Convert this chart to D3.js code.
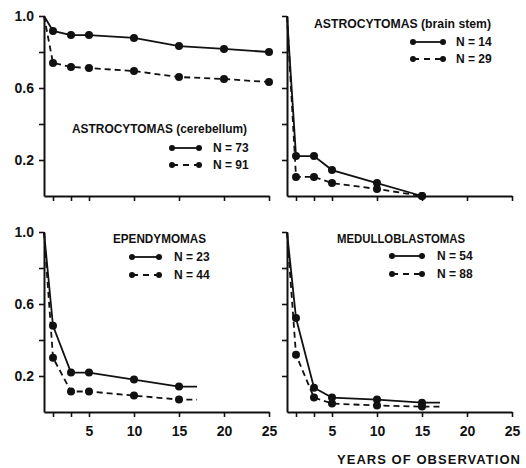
<!DOCTYPE html>
<html>
<head>
<meta charset="utf-8">
<script src="https://cdn.jsdelivr.net/npm/d3@7"></script>
<style>
  body { margin: 0; background: #fff; }
  svg { display: block; }
  text { font-family: "Liberation Sans", Arial, sans-serif; font-weight: bold; fill: #111; }
</style>
</head>
<body>
<div id="chart"></div>
<script>
// survival fractions
var cerebYears = [0, 1, 3, 5, 10, 15, 20, 25];
var cerebSolid = [1.0, 0.917, 0.894, 0.894, 0.878, 0.833, 0.817, 0.8];
var cerebDashed = [1.0, 0.739, 0.717, 0.711, 0.694, 0.661, 0.65, 0.633];

var stemYears = [0, 1, 3, 5, 10, 15];
var stemSolid = [1.0, 0.222, 0.222, 0.144, 0.072, 0];
var stemDashed = [1.0, 0.106, 0.106, 0.072, 0.039, 0];

var ependYears = [0, 1, 3, 5, 10, 15, 17];
var ependSolid = [1.0, 0.479, 0.219, 0.219, 0.18, 0.141, 0.141];
var ependDashed = [1.0, 0.302, 0.114, 0.114, 0.091, 0.069, 0.069];

var meduYears = [0, 1, 3, 5, 10, 15, 17];
var meduSolid = [1.0, 0.522, 0.135, 0.08, 0.069, 0.052, 0.052];
var meduDashed = [1.0, 0.318, 0.08, 0.047, 0.036, 0.03, 0.03];

var titles = ["ASTROCYTOMAS (cerebellum)", "ASTROCYTOMAS (brain stem)", "EPENDYMOMAS", "MEDULLOBLASTOMAS"];
var solidN = ["N = 73", "N = 14", "N = 23", "N = 54"];
var dashedN = ["N = 91", "N = 29", "N = 44", "N = 88"];

var xTicks = [1, 3, 5, 10, 15, 20, 25];
var xLabels = [5, 10, 15, 20, 25];
var yTicks = [0.2, 0.4, 0.6, 0.8, 1.0];
var yLabels = [0.2, 0.6, 1.0];
var dotYearsMax = [25, 15, 15, 15];

var width = 526, height = 468;

var svg = d3.select("#chart").append("svg")
    .attr("width", width)
    .attr("height", height);

// panel geometry: left x, top y, bottom y, legend placement
var panels = [
    {years: cerebYears, solid: cerebSolid, dashed: cerebDashed, x0: 44, top: 16, bottom: 196,
     title: [72, 128, 175], leg: [172, 199, 213, 148, 165], yText: true, xText: false},
    {years: stemYears, solid: stemSolid, dashed: stemDashed, x0: 287, top: 16, bottom: 196,
     title: [314, 23, 177], leg: [413, 443, 456, 42, 59], yText: false, xText: false},
    {years: ependYears, solid: ependSolid, dashed: ependDashed, x0: 44, top: 232, bottom: 412,
     title: [113, 238, 93], leg: [132, 159, 174, 257, 275], yText: true, xText: true},
    {years: meduYears, solid: meduSolid, dashed: meduDashed, x0: 287, top: 232, bottom: 412,
     title: [337, 238, 128], leg: [392, 422, 437, 256, 274], yText: false, xText: true}
];

panels.forEach(function (p, i) {
    var x = d3.scaleLinear().domain([0, 25]).range([p.x0, p.x0 + 225]);
    var y = d3.scaleLinear().domain([0, 1]).range([p.bottom, p.top]);
    var g = svg.append("g");

    var yAxis = d3.axisLeft(y)
        .tickValues(yTicks)
        .tickSize(5)
        .tickSizeOuter(0)
        .tickPadding(5)
        .tickFormat(function (d) {
            return p.yText && yLabels.indexOf(d) >= 0 ? d3.format(".1f")(d) : "";
        });
    var xAxis = d3.axisBottom(x)
        .tickValues(xTicks)
        .tickSize(5)
        .tickSizeOuter(0)
        .tickPadding(9)
        .tickFormat(function (d) {
            return p.xText && xLabels.indexOf(d) >= 0 ? d : "";
        });

    var ya = g.append("g").attr("transform", "translate(" + p.x0 + ",0)").call(yAxis);
    var xa = g.append("g").attr("transform", "translate(0," + p.bottom + ")").call(xAxis);
    [ya, xa].forEach(function (a) {
        a.select(".domain").attr("stroke", "#111").attr("stroke-width", 2);
        a.selectAll(".tick line").attr("stroke", "#111").attr("stroke-width", 1.6);
        a.selectAll(".tick text").attr("font-size", 14).attr("fill", "#111")
            .attr("font-family", "'Liberation Sans', Arial, sans-serif").attr("font-weight", "bold");
    });

    var line = d3.line()
        .x(function (d) { return x(d[0]); })
        .y(function (d) { return y(d[1]); });

    [[p.solid, null], [p.dashed, "6,4"]].forEach(function (s) {
        var pts = p.years.map(function (yr, j) { return [yr, s[0][j]]; });
        g.append("path")
            .datum(pts)
            .attr("d", line)
            .attr("fill", "none")
            .attr("stroke", "#111")
            .attr("stroke-width", 1.8)
            .attr("stroke-dasharray", s[1]);
        g.selectAll(null)
            .data(pts.filter(function (d) { return d[0] > 0 && d[0] <= dotYearsMax[i]; }))
            .enter().append("circle")
            .attr("cx", function (d) { return x(d[0]); })
            .attr("cy", function (d) { return y(d[1]); })
            .attr("r", 4)
            .attr("fill", "#111");
    });

    // legend
    g.append("text")
        .attr("x", p.title[0])
        .attr("y", p.title[1])
        .attr("dy", "0.36em")
        .attr("font-size", 12.5)
        .attr("textLength", p.title[2])
        .attr("lengthAdjust", "spacingAndGlyphs")
        .text(titles[i]);

    [[solidN[i], null, p.leg[3]], [dashedN[i], "5,4", p.leg[4]]].forEach(function (r) {
        g.append("line")
            .attr("x1", p.leg[0]).attr("x2", p.leg[1])
            .attr("y1", r[2]).attr("y2", r[2])
            .attr("stroke", "#111")
            .attr("stroke-width", 1.8)
            .attr("stroke-dasharray", r[1] ? "6,5" : null);
        [p.leg[0], p.leg[1]].forEach(function (cx) {
            g.append("circle").attr("cx", cx).attr("cy", r[2]).attr("r", 3).attr("fill", "#111");
        });
        g.append("text")
            .attr("x", p.leg[2])
            .attr("y", r[2])
            .attr("dy", "0.36em")
            .attr("font-size", 12)
            .text(r[0]);
    });
});

svg.append("text")
    .attr("x", 337)
    .attr("y", 459)
    .attr("dy", "0.36em")
    .attr("font-size", 13)
    .attr("textLength", 183)
    .attr("lengthAdjust", "spacing")
    .text("YEARS OF OBSERVATION");
</script>
</body>
</html>
